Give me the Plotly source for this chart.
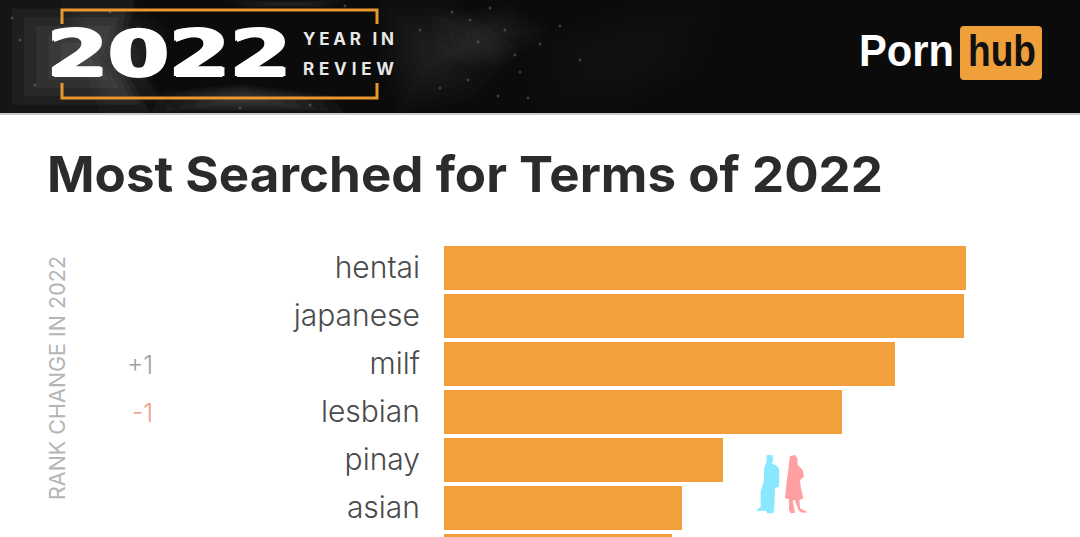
import plotly.graph_objects as go

W, H = 1080, 537

# ---- data ----
terms = ["hentai", "japanese", "milf", "lesbian", "pinay", "asian", ""]
share = [100.0, 99.6, 86.4, 76.2, 53.4, 45.6, 43.7]
rank_change_labels = ["+1", "-1"]
rank_change_rows = [2, 3]
rank_change_colors = ["#a0a0a0", "#e8a184"]
title_text = "Most Searched for Terms of 2022"


def px(x):
    return x / W


def py(y):
    return 1 - y / H


def path(points):
    return "M " + " L ".join(f"{px(x):.5f},{py(y):.5f}" for x, y in points) + " Z"


def zoom_pts(points):
    return [(640 + x / 3, 420 + y / 3) for x, y in points]


fig = go.Figure(
    go.Bar(
        y=list(range(len(terms))),
        x=share,
        orientation="h",
        width=0.917,
        marker=dict(color="#f1a03b", line=dict(width=0)),
        hoverinfo="skip",
    )
)

NOLINE = dict(width=0)
P = dict(xref="paper", yref="paper")
shapes = [
    dict(type="rect", x0=0, x1=1, y0=py(113), y1=1, fillcolor="#0b0b0b", line=NOLINE, layer="below", **P),
    dict(type="rect", x0=0, x1=1, y0=py(115), y1=py(113), fillcolor="#c9c9c9", line=NOLINE, layer="below", **P),
]

# mottled header background: soft, layered patches and a few light specks
blobs = [
    ([(0, 0), (135, 0), (120, 60), (150, 113), (0, 113)], 0.17),
    ([(60, 0), (130, 0), (170, 30), (150, 90), (180, 113), (100, 113)], 0.08),
    ([(165, 92), (240, 84), (330, 95), (345, 113), (150, 113)], 0.12),
    ([(380, 0), (450, 0), (520, 50), (470, 100), (400, 113), (380, 60)], 0.07),
    ([(430, 15), (510, 5), (550, 30), (500, 70), (440, 60)], 0.07),
    ([(520, 40), (650, 0), (720, 0), (700, 70), (610, 113), (540, 113)], 0.03),
    ([(225, 0), (350, 0), (330, 8), (240, 8)], 0.08),
]
for pts, op in blobs:
    cx = sum(p[0] for p in pts) / len(pts)
    cy = sum(p[1] for p in pts) / len(pts)
    for f in (1.0, 0.85, 0.7, 0.55, 0.4, 0.25):
        scaled = [(cx + (x - cx) * f, cy + (y - cy) * f) for x, y in pts]
        shapes.append(dict(type="path", path=path(scaled), fillcolor="#ffffff", opacity=op / 4,
                           line=NOLINE, layer="below", **P))
specks = [(452, 12), (470, 20), (490, 8), (505, 30), (478, 42), (515, 55), (440, 88), (468, 80),
          (520, 72), (540, 44), (560, 26), (498, 96), (310, 105), (240, 108), (345, 6), (20, 40),
          (35, 85), (12, 18), (110, 12), (528, 98), (580, 60), (420, 30)]
for sx, sy in specks:
    shapes.append(dict(type="circle", x0=px(sx - 1.5), x1=px(sx + 1.5), y0=py(sy + 1.5), y1=py(sy - 1.5),
                       fillcolor="#ffffff", opacity=0.2, line=NOLINE, layer="below", **P))

# orange bracket
ORANGE = "#e8982f"
for pts in (
    [(62, 24), (62, 10), (377, 10), (377, 24)],
    [(62, 83), (62, 98), (377, 98), (377, 83)],
):
    d = "M " + " L ".join(f"{px(x):.5f},{py(y):.5f}" for x, y in pts)
    shapes.append(dict(type="path", path=d, line=dict(color=ORANGE, width=3), layer="below", **P))

# logo box
x0, x1, y0, y1, r = 960, 1042, 26, 80, 4
box = (
    f"M {px(x0 + r)},{py(y0)} L {px(x1 - r)},{py(y0)} Q {px(x1)},{py(y0)} {px(x1)},{py(y0 + r)} "
    f"L {px(x1)},{py(y1 - r)} Q {px(x1)},{py(y1)} {px(x1 - r)},{py(y1)} "
    f"L {px(x0 + r)},{py(y1)} Q {px(x0)},{py(y1)} {px(x0)},{py(y1 - r)} "
    f"L {px(x0)},{py(y0 + r)} Q {px(x0)},{py(y0)} {px(x0 + r)},{py(y0)} Z"
)
shapes.append(dict(type="path", path=box, fillcolor="#f0a03a", line=NOLINE, layer="below", **P))

# silhouettes
man = [(380, 105), (397, 105), (400, 118), (395, 130), (412, 138), (418, 150), (417, 200), (405, 205),
       (403, 262), (400, 280), (382, 280), (378, 272), (350, 274), (352, 268), (362, 262), (362, 215),
       (372, 180), (372, 145), (378, 130), (380, 120)]
woman = [(450, 108), (465, 105), (472, 115), (473, 135), (488, 150), (492, 170), (480, 180), (482, 200),
         (490, 235), (478, 240), (480, 265), (503, 277), (485, 278), (475, 270), (465, 240), (458, 242),
         (465, 278), (452, 280), (447, 270), (447, 238), (435, 235), (440, 185), (445, 150), (447, 130)]
shapes.append(dict(type="path", path=path(zoom_pts(man)), fillcolor="#89e8ff", line=NOLINE, layer="above", **P))
shapes.append(dict(type="path", path=path(zoom_pts(woman)), fillcolor="#ff9fa2", line=NOLINE, layer="above", **P))


def label(text, x, y, size, color, family, weight=400, anchor="left", shadow=None, **kw):
    font = dict(size=size, color=color, family=family, weight=weight)
    if shadow:
        font["shadow"] = shadow
    return dict(
        text=text, x=px(x), y=py(y), xref="paper", yref="paper", showarrow=False,
        xanchor=anchor, yanchor="middle", align=anchor, font=font, **kw,
    )


annotations = [
    label("2022", 45, 54, 64, "#ffffff", "DejaVu Sans", 700,
          shadow="1.5px 0 0 #fff, -1.5px 0 0 #fff, 0 1px 0 #fff, 0 -1px 0 #fff"),
    label("YEAR IN", 301, 39, 17, "#e8e8e8", "Inter", 700),
    label("REVIEW", 301, 69, 17, "#e8e8e8", "Inter", 700),
    label("Porn", 857, 51, 45, "#ffffff", "Liberation Sans", 700),
    label("hub", 966, 51, 45, "#111111", "Liberation Sans", 700),
    label(title_text, 45, 174, 50, "#2b2b2b", "Inter", 700),
    label("RANK CHANGE IN 2022", 57, 378, 21.5, "#b5b5b5", "Inter", 400, anchor="center", textangle=-90),
]
for lab, row, col in zip(rank_change_labels, rank_change_rows, rank_change_colors):
    annotations.append(dict(
        text=lab, x=px(155), xref="paper", y=row, yref="y", yshift=-2, showarrow=False, xanchor="right",
        font=dict(size=25, color=col, family="Inter", weight=300),
    ))

fig.update_layout(
    width=W, height=H, autosize=False,
    margin=dict(l=0, r=0, t=0, b=0, pad=0),
    paper_bgcolor="#ffffff", plot_bgcolor="rgba(0,0,0,0)",
    showlegend=False, bargap=0,
    shapes=shapes, annotations=annotations,
    xaxis=dict(domain=[444 / W, 1], range=[0, 121.84], visible=False, fixedrange=True),
    yaxis=dict(
        domain=[0, 293.5 / H], range=[5.615, -0.5], tickmode="array",
        tickvals=list(range(len(terms))), ticktext=terms, ticks="", showline=False, showgrid=False,
        zeroline=False, ticklabelstandoff=23, fixedrange=True,
        tickfont=dict(size=30, color="#4a4a4a", family="Inter", weight=300),
    ),
)

stretch = """
document.body.style.margin = '0';
var glyphs = {'2022': 244, 'Porn': 95, 'hub': 68, '%s': 836};
var spaced = {'YEAR IN': 91, 'REVIEW': 91};
document.querySelectorAll('.annotation-text').forEach(function (t) {
  var s = t.textContent;
  if (glyphs[s]) { t.setAttribute('textLength', glyphs[s]); t.setAttribute('lengthAdjust', 'spacingAndGlyphs'); }
  if (spaced[s]) { t.setAttribute('textLength', spaced[s]); t.setAttribute('lengthAdjust', 'spacing'); }
});
""" % title_text

fig.write_html("out.html", config={"displayModeBar": False}, post_script=stretch)
